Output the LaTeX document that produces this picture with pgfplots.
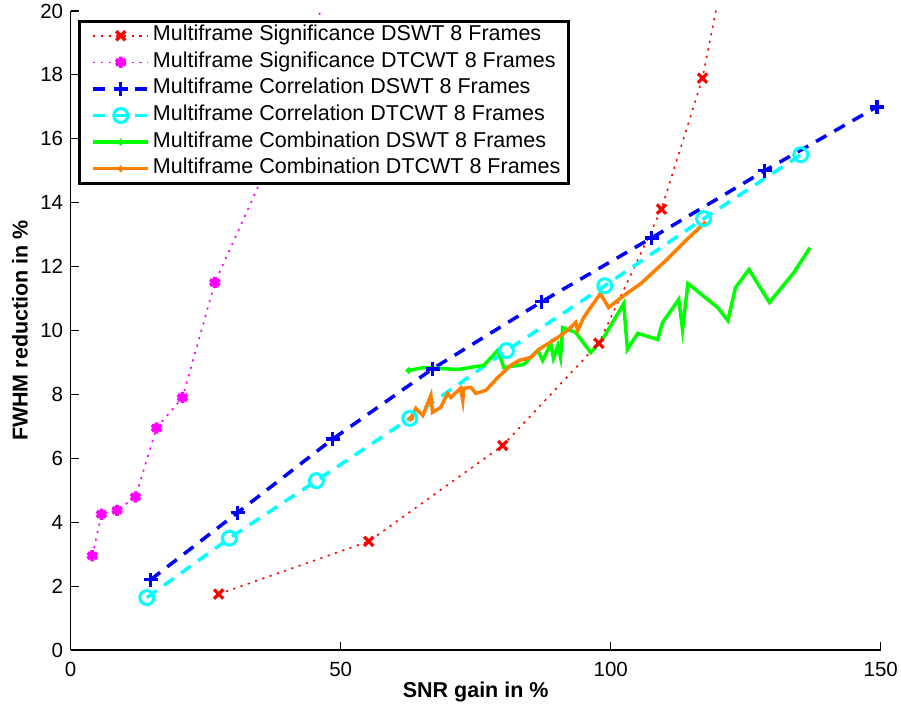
\documentclass[border=0pt]{standalone}
\usepackage{fontspec}
\setmainfont{Liberation Sans}
\usepackage{pgfplots}
\pgfplotsset{compat=1.18}
\definecolor{mred}{rgb}{1,0,0}
\definecolor{mmagenta}{rgb}{1,0,1}
\definecolor{mblue}{rgb}{0,0,1}
\definecolor{mcyan}{rgb}{0,1,1}
\definecolor{mgreen}{rgb}{0,1,0}
\definecolor{morange}{rgb}{1,0.5,0}
\begin{document}
\begin{tikzpicture}
\begin{axis}[
    name=ax,
    scale only axis,
    width=810pt, height=639pt,
    xmin=0, xmax=150, ymin=0, ymax=20,
    xtick={0,50,100,150},
    ytick={0,2,...,20},
    axis lines=left,
    axis line style={-, line width=1.2pt},
    tick align=inside,
    major tick length=8pt,
    tick style={line width=1.2pt, black},
    /pgf/number format/assume math mode=true,
    ticklabel style={font=\fontsize{20.5}{24}\selectfont},
    xticklabel style={inner sep=0pt, yshift=-11.5pt},
    yticklabel style={inner sep=0pt, xshift=-7.4pt},
    xlabel={SNR gain in \%},
    ylabel={FWHM reduction in \%},
    label style={font=\fontsize{21.5}{25}\selectfont\bfseries, inner sep=0pt},
    xlabel style={at={(axis description cs:0.5,-0.0736)}, anchor=base},
    ylabel style={at={(axis description cs:-0.0527,0.5)}, anchor=south},
    legend cell align=left,
    legend style={
        at={(axis description cs:0.009,0.986)}, anchor=north west,
        draw=black, line width=3pt, fill=white,
        inner xsep=5pt, inner ysep=1pt, row sep=0pt,
        font=\fontsize{21.5}{25}\selectfont,
        nodes={text height=15pt, text depth=5pt, inner ysep=3.3pt, inner xsep=3pt},
    },
    legend image code/.code={%
        \path (0pt,0pt);
        \draw[mark repeat=2,mark phase=2,#1] plot coordinates {(7pt,0pt) (34.5pt,0pt) (62pt,0pt)};},
]
% Multiframe Significance DSWT
\addplot[mred, line width=1.6pt, dash pattern=on 2.2pt off 5.5pt,
    mark=x, mark size=6.5pt, mark options={solid, line width=3.2pt}]
    coordinates {(27.4,1.75) (55.2,3.4) (80,6.4) (97.8,9.6) (109.4,13.8) (117,17.9) (125,24.7)};
% Multiframe Significance DTCWT
\addplot[mmagenta, line width=1.6pt, dash pattern=on 2.2pt off 5.5pt,
    mark=asterisk, mark size=5.6pt, mark options={solid, line width=3.8pt}]
    coordinates {(4.0,2.95) (5.7,4.25) (8.6,4.37) (12.0,4.79) (15.9,6.95) (20.7,7.9) (26.7,11.5) (35.5,14.8) (50,21.8)};
% Multiframe Correlation DSWT
\addplot[mblue, line width=3.5pt, dash pattern=on 12pt off 9pt,
    mark=+, mark size=7pt, mark options={solid, line width=3.5pt}]
    coordinates {(14.8,2.2) (30.9,4.3) (48.5,6.6) (67,8.8) (87.2,10.9) (107.6,12.9) (128.5,15.0) (149.3,17.0)};
% Multiframe Correlation DTCWT
\addplot[mcyan, line width=3.5pt, dash pattern=on 12pt off 9pt,
    mark=o, mark size=7pt, mark options={solid, line width=3pt}]
    coordinates {(14.1,1.64) (29.4,3.5) (45.5,5.3) (62.8,7.25) (80.7,9.37) (98.9,11.4) (117.2,13.5) (135.2,15.5)};
% Multiframe Combination DSWT
\addplot[mgreen, line width=3.5pt, mark=*, mark size=1.2pt, mark repeat=100]
    coordinates {(62.6,8.75) (65.4,8.84) (71.7,8.78) (76.5,8.91) (79.1,9.38) (80.2,8.84)
    (83.9,8.94) (86.5,9.38) (87.4,9.06) (88.9,9.59) (89.4,9.13) (90.2,9.53) (90.7,9.16)
    (91.1,10.09) (93.5,9.94) (96.3,9.31) (98.7,9.78) (102.4,10.84) (103.1,9.41) (105,9.91)
    (108.7,9.72) (109.6,10.25) (112.6,10.97) (113.3,10.03) (114.3,11.47) (119.8,10.72)
    (121.7,10.31) (123.1,11.34) (125.6,11.91) (129.4,10.88) (133.9,11.81) (136.9,12.59)};
% Multiframe Combination DTCWT
\addplot[morange, line width=3.5pt, mark=*, mark size=1.2pt, mark repeat=100]
    coordinates {(63.0,7.25) (63.9,7.56) (65.2,7.34) (66.7,7.97) (67.0,7.44) (68.5,7.59)
    (69.8,8.03) (70.4,7.91) (72.2,8.19) (72.6,7.81) (72.8,8.19) (74.1,8.22) (75.0,8.03)
    (76.9,8.13) (79.1,8.53) (81.5,8.91) (83.0,9.06) (85.2,9.16) (87.0,9.44) (90.2,9.78)
    (92.0,10.0) (93.5,10.25) (93.9,10.0) (95.0,10.41) (98.1,11.16) (99.6,10.72) (102.4,11.09)
    (105.6,11.47) (110.2,12.19) (114.3,12.88) (117.6,13.4)};
\legend{Multiframe Significance DSWT 8 Frames,
        Multiframe Significance DTCWT 8 Frames,
        Multiframe Correlation DSWT 8 Frames,
        Multiframe Correlation DTCWT 8 Frames,
        Multiframe Combination DSWT 8 Frames,
        Multiframe Combination DTCWT 8 Frames}
\end{axis}
\pgfresetboundingbox
\path ([shift={(-70.7pt,-57pt)}]ax.south west) rectangle ([shift={(20.3pt,11pt)}]ax.north east);
\end{tikzpicture}
\end{document}
